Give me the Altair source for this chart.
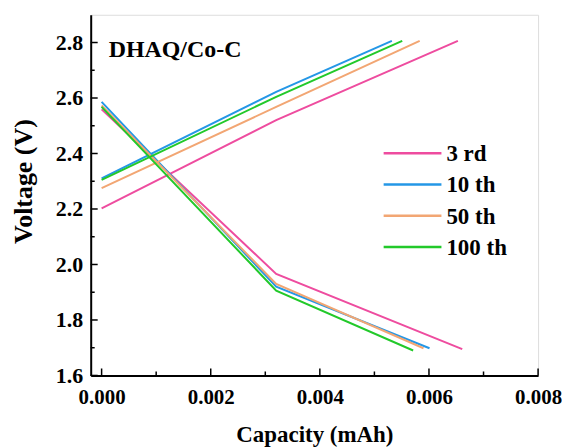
import altair as alt
import pandas as pd

cycles = ["3 rd", "10 th", "50 th", "100 th"]
colors = ["#EE4C9F", "#2497E6", "#F2A673", "#22C92A"]

# charge curves (capacity mAh, voltage V): start, knee, end
charge_cap = {
    "3 rd": [0.0, 0.0032, 0.00653],
    "10 th": [0.0, 0.0032, 0.00532],
    "50 th": [0.0, 0.0032, 0.00583],
    "100 th": [0.0, 0.0032, 0.00551],
}
charge_v = {
    "3 rd": [2.202, 2.52, 2.806],
    "10 th": [2.31, 2.622, 2.806],
    "50 th": [2.275, 2.568, 2.806],
    "100 th": [2.305, 2.604, 2.806],
}
# discharge curves
dis_cap = {
    "3 rd": [0.0, 0.0032, 0.00661],
    "10 th": [0.0, 0.0032, 0.00601],
    "50 th": [0.0, 0.0032, 0.0059],
    "100 th": [0.0, 0.0032, 0.00571],
}
dis_v = {
    "3 rd": [2.559, 1.966, 1.695],
    "10 th": [2.586, 1.92, 1.698],
    "50 th": [2.573, 1.93, 1.698],
    "100 th": [2.568, 1.906, 1.69],
}

x_major = [0.0, 0.002, 0.004, 0.006, 0.008]
x_minor = [0.001, 0.003, 0.005, 0.007]
y_major = [1.6, 1.8, 2.0, 2.2, 2.4, 2.6, 2.8]
y_minor = [1.7, 1.9, 2.1, 2.3, 2.5, 2.7]

rows = []
for c in cycles:
    for i, (x, y) in enumerate(zip(charge_cap[c], charge_v[c])):
        rows.append({"cycle": c, "seg": c + "-chg", "cap": x, "v": y, "o": i})
    for i, (x, y) in enumerate(zip(dis_cap[c], dis_v[c])):
        rows.append({"cycle": c, "seg": c + "-dis", "cap": x, "v": y, "o": i})
df = pd.DataFrame(rows)

W, H = 449, 362
FONT = "Liberation Serif"
xs = alt.Scale(domain=[-0.0002, 0.008], nice=False, zero=False)
ys = alt.Scale(domain=[1.6, 2.9], nice=False, zero=False)
cs = alt.Scale(domain=cycles, range=colors)

lines = alt.Chart(df).mark_line(strokeWidth=2).encode(
    x=alt.X("cap:Q", scale=xs,
            axis=alt.Axis(title="Capacity (mAh)", values=x_major, format=".3f",
                          tickSize=0, labelPadding=11, titlePadding=16,
                          labelFont=FONT, labelFontSize=21, labelFontWeight="bold",
                          titleFont=FONT, titleFontSize=23, titleFontWeight="bold",
                          labelColor="black", titleColor="black",
                          domainColor="black", domainWidth=2, grid=False,
                          labelFlush=False)),
    y=alt.Y("v:Q", scale=ys,
            axis=alt.Axis(title="Voltage (V)", values=y_major, format=".1f",
                          tickSize=0, labelPadding=8, titlePadding=19, titleY=167,
                          labelFont=FONT, labelFontSize=22, labelFontWeight="bold",
                          titleFont=FONT, titleFontSize=26, titleFontWeight="bold",
                          labelColor="black", titleColor="black",
                          domainColor="black", domainWidth=2, grid=False,
                          labelFlush=False)),
    color=alt.Color("cycle:N", scale=cs, legend=None),
    detail="seg:N",
    order="o:Q",
)

xmaj = pd.DataFrame({"t": x_major})
xmin = pd.DataFrame({"t": x_minor})
ymaj = pd.DataFrame({"t": y_major})
ymin = pd.DataFrame({"t": y_minor})

tk = dict(color="black", strokeWidth=1.5)
xt1 = alt.Chart(xmaj).mark_rule(**tk).encode(x=alt.X("t:Q", scale=xs), y=alt.value(H), y2=alt.value(H - 7))
xt2 = alt.Chart(xmin).mark_rule(**tk).encode(x=alt.X("t:Q", scale=xs), y=alt.value(H), y2=alt.value(H - 4))
yt1 = alt.Chart(ymaj).mark_rule(**tk).encode(y=alt.Y("t:Q", scale=ys), x=alt.value(0), x2=alt.value(7))
yt2 = alt.Chart(ymin).mark_rule(**tk).encode(y=alt.Y("t:Q", scale=ys), x=alt.value(0), x2=alt.value(4))

# manual legend
leg_df = pd.DataFrame({"cycle": cycles})
leg_y = alt.Y("cycle:N", scale=alt.Scale(type="point", domain=cycles, range=[139, 233], padding=0), axis=None)
leg_lines = alt.Chart(leg_df).mark_rule(strokeWidth=2.5).encode(
    y=leg_y, x=alt.value(294), x2=alt.value(352),
    color=alt.Color("cycle:N", scale=cs, legend=None),
)
leg_text = alt.Chart(leg_df).mark_text(
    font=FONT, fontSize=23, fontWeight="bold", align="left", baseline="middle", color="black", dy=1
).encode(y=leg_y, x=alt.value(357), text="cycle:N")

label = alt.Chart(pd.DataFrame({"t": ["DHAQ/Co-C"]})).mark_text(
    font=FONT, fontSize=24, fontWeight="bold", align="left", baseline="middle", color="black"
).encode(text="t:N", x=alt.value(18), y=alt.value(35))

main = alt.layer(lines, xt1, xt2, yt1, yt2, label)
legend = alt.layer(leg_lines, leg_text)

chart = alt.layer(main, legend).resolve_scale(y="independent").properties(
    width=W, height=H,
    autosize=alt.AutoSizeParams(type="none"),
    padding={"left": 83, "top": 6, "right": 24, "bottom": 72},
).configure_view(stroke="black", strokeWidth=2).configure(background="white")

chart.save("out.html", embed_options={"renderer": "svg", "actions": False})
